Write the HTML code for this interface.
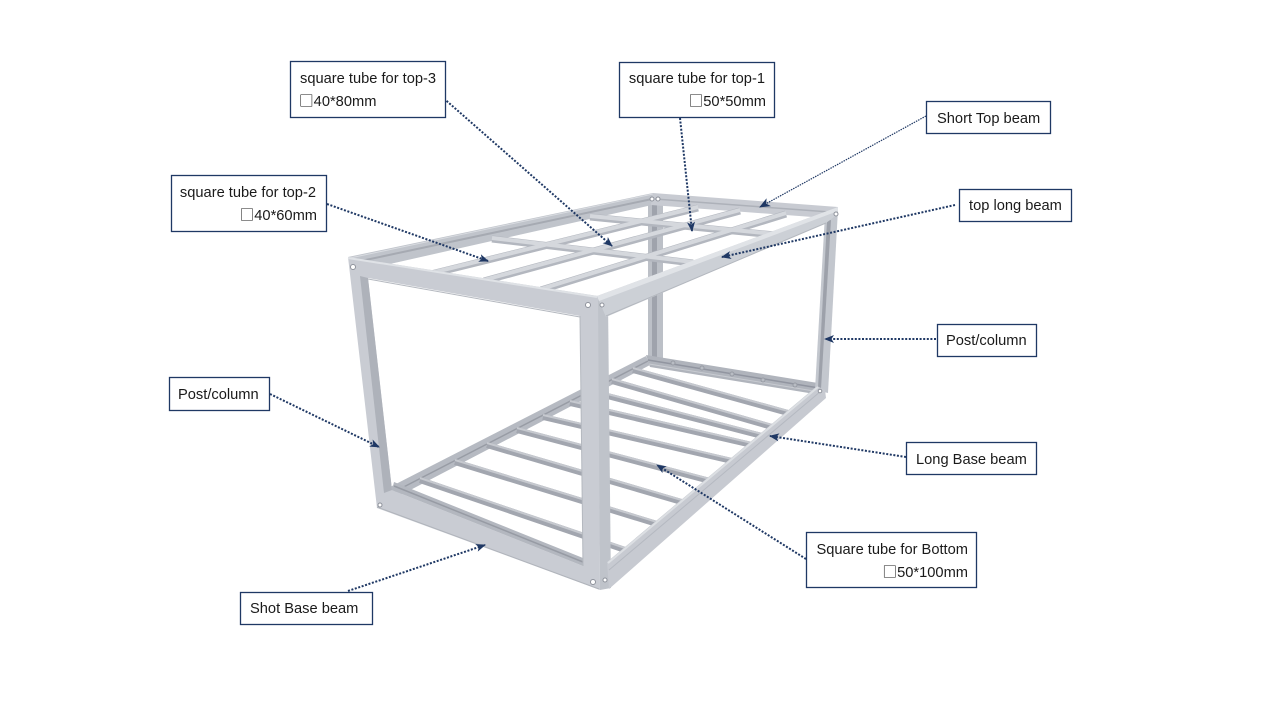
<!DOCTYPE html>
<html><head><meta charset="utf-8"><style>
html,body{margin:0;padding:0;background:#fff;}
svg{display:block;}
text{font-family:"Liberation Sans","DejaVu Sans",Arial,sans-serif;font-size:14.67px;fill:#1a1a1a;}
.sq{font-family:"Noto Sans CJK JP","Noto Sans CJK SC","DejaVu Sans",sans-serif;font-size:14.67px;}
</style></head><body>
<svg width="1280" height="720" viewBox="0 0 1280 720" xmlns="http://www.w3.org/2000/svg">
<defs>
<marker id="ah" markerUnits="userSpaceOnUse" markerWidth="10" markerHeight="10" refX="9" refY="5" orient="auto"><path d="M0,1 L10,5 L0,9 L2.5,5 Z" fill="#1f3864"/></marker>
<marker id="ah2" markerUnits="userSpaceOnUse" markerWidth="12" markerHeight="10" refX="10" refY="5" orient="auto"><path d="M0,0.5 L11,5 L0,9.5 L3,5 Z" fill="#1f3864"/></marker>
</defs>
<rect width="1280" height="720" fill="#fff"/>

<!-- far-left back post -->
<polygon points="648,196 663,198 663,363 648,361" fill="#bcc0c7"/>
<polygon points="652,200 657,200 657,361 652,360" fill="#9fa3ac"/>

<!-- floor back rail -->
<polygon points="390,487 646,356 650,365 395,498" fill="#b6bac2"/>
<line x1="392" y1="493" x2="648" y2="361" stroke="#989ca5" stroke-width="1.5"/>
<!-- far floor rail -->
<polygon points="646,355 818,383 821,395 650,367" fill="#b0b4bc"/>
<line x1="648" y1="360" x2="819" y2="388" stroke="#9195a0" stroke-width="1.5"/>
<line x1="649" y1="364" x2="820" y2="392" stroke="#c8cbd1" stroke-width="1"/>
<g fill="#b8bcc3" stroke="#979ba4" stroke-width="1">
<circle cx="673" cy="363" r="2"/><circle cx="702" cy="368" r="2"/><circle cx="732" cy="374" r="2"/><circle cx="763" cy="380" r="2"/><circle cx="795" cy="385" r="2"/>
</g>

<!-- floor bars -->
<g stroke="#a2a6af" stroke-width="6" stroke-linecap="butt">
<line x1="420" y1="480" x2="628" y2="551"/>
<line x1="455" y1="462" x2="657" y2="524"/>
<line x1="487" y1="445" x2="685" y2="503"/>
<line x1="517" y1="430" x2="710" y2="481"/>
<line x1="543" y1="417" x2="732" y2="461"/>
<line x1="570" y1="403" x2="752" y2="445"/>
<line x1="592" y1="392" x2="762" y2="436"/>
<line x1="612" y1="381" x2="772" y2="427"/>
<line x1="633" y1="370" x2="788" y2="413"/>
</g>
<g stroke="#c6c9cf" stroke-width="2">
<line x1="420" y1="478" x2="628" y2="549"/>
<line x1="455" y1="460" x2="657" y2="522"/>
<line x1="487" y1="443" x2="685" y2="501"/>
<line x1="517" y1="428" x2="710" y2="479"/>
<line x1="543" y1="415" x2="732" y2="459"/>
<line x1="570" y1="401" x2="752" y2="443"/>
<line x1="592" y1="390" x2="762" y2="434"/>
<line x1="612" y1="379" x2="772" y2="425"/>
<line x1="633" y1="368" x2="788" y2="411"/>
</g>

<!-- top back long beam strip -->
<polygon points="348,257 653,193 652,205 372,268" fill="#c0c4cb"/>
<line x1="356" y1="262" x2="652" y2="199" stroke="#a6aab2" stroke-width="2"/>
<line x1="350" y1="258" x2="653" y2="194" stroke="#d9dce1" stroke-width="1"/>
<!-- top far short beam -->
<polygon points="653,193 838,207 826,218 651,205" fill="#c8cbd2"/>
<line x1="655" y1="199" x2="830" y2="212" stroke="#adb1b9" stroke-width="1.5"/>

<!-- top grid bars -->
<g stroke="#b3b7bf" stroke-width="7">
<line x1="431" y1="274" x2="698" y2="208"/>
<line x1="484" y1="281" x2="740" y2="211"/>
<line x1="541" y1="290" x2="786" y2="214"/>
<line x1="492" y1="239" x2="693" y2="263"/>
<line x1="590" y1="217" x2="775" y2="235"/>
</g>
<g stroke="#d5d8dd" stroke-width="4">
<line x1="431" y1="273" x2="698" y2="207"/>
<line x1="484" y1="280" x2="740" y2="210"/>
<line x1="541" y1="289" x2="786" y2="213"/>
<line x1="492" y1="238" x2="693" y2="262"/>
<line x1="590" y1="216" x2="775" y2="234"/>
</g>

<!-- far right post -->
<polygon points="825,214 838,209 828,393 815,390" fill="#c3c7ce"/>
<polygon points="827,221 831,220 821,389 818,388" fill="#9da1aa"/>

<!-- near corner column side face -->
<polygon points="597,296 608,300 611,588 600,590" fill="#bfc3ca"/>

<!-- front long bottom beam -->
<polygon points="607,562 817,386 825,390 826,398 609,589" fill="#c7cad1"/>
<line x1="608" y1="563" x2="818" y2="387" stroke="#dcdfe3" stroke-width="2"/>
<line x1="609" y1="570" x2="821" y2="391" stroke="#b5b9c1" stroke-width="1"/>

<!-- left end frame -->
<path d="M348,257 L598,296 L600,590 L377,508 Z M368,278 L580,316 L583,566 L392,490 Z" fill="#c9ccd3" fill-rule="evenodd"/>
<polygon points="360,276 368,278 392,490 384,493" fill="#aeb2ba"/>
<polygon points="392,490 583,566 583,558 394,482" fill="#b3b7bf"/>
<line x1="394" y1="486" x2="583" y2="562" stroke="#979ba4" stroke-width="1.5"/>
<line x1="348" y1="258" x2="597" y2="297" stroke="#dfe2e6" stroke-width="2"/>
<line x1="368" y1="279" x2="580" y2="317" stroke="#b4b8bf" stroke-width="1"/>
<line x1="377" y1="507" x2="599" y2="589" stroke="#b0b4bb" stroke-width="1"/>
<line x1="580" y1="316" x2="583" y2="566" stroke="#b4b8bf" stroke-width="1"/>

<!-- front long top beam -->
<polygon points="597,296 838,207 838,214 826,223 606,317" fill="#ccd0d6"/>
<polygon points="597,296 838,207 838,211 599,301" fill="#e0e3e7"/>
<line x1="606" y1="316" x2="826" y2="223" stroke="#b4b8bf" stroke-width="1"/>

<!-- holes -->
<g fill="#fff" stroke="#8e929b" stroke-width="1">
<circle cx="353" cy="267" r="2.5"/>
<circle cx="588" cy="305" r="2.5"/>
<circle cx="602" cy="305" r="2"/>
<circle cx="652" cy="199" r="2"/>
<circle cx="658" cy="199" r="2"/>
<circle cx="836" cy="214" r="2"/>
<circle cx="380" cy="505" r="2"/>
<circle cx="593" cy="582" r="2.5"/>
<circle cx="605" cy="580" r="2"/>
<circle cx="820" cy="391" r="1.8"/>
</g>

<!-- connectors -->
<g stroke="#1f3864" stroke-width="2" stroke-dasharray="2 1.6" fill="none" marker-end="url(#ah)">
<line x1="433" y1="89" x2="612" y2="246"/>
<line x1="680" y1="118" x2="692" y2="231"/>
<line x1="955" y1="205" x2="722" y2="257"/>
<line x1="327" y1="204" x2="488" y2="261"/>
<line x1="936" y1="339" x2="825" y2="339"/>
<line x1="270" y1="394" x2="379" y2="447"/>
<line x1="906" y1="457" x2="770" y2="436"/>
<line x1="806" y1="559" x2="657" y2="465"/>
<line x1="348" y1="591" x2="485" y2="545"/>
</g>
<line x1="926" y1="116" x2="760" y2="207" stroke="#1f3864" stroke-width="1.2" stroke-dasharray="1.5 1" marker-end="url(#ah2)"/>

<!-- label boxes -->
<g fill="#fff" stroke="#1f3864" stroke-width="1.3">
<rect x="290.5" y="61.5" width="155" height="56"/>
<rect x="619.5" y="62.5" width="155" height="55"/>
<rect x="171.5" y="175.5" width="155" height="56"/>
<rect x="169.5" y="377.5" width="100" height="33"/>
<rect x="926.5" y="101.5" width="124" height="32"/>
<rect x="959.5" y="189.5" width="112" height="32"/>
<rect x="937.5" y="324.5" width="99" height="32"/>
<rect x="906.5" y="442.5" width="130" height="32"/>
<rect x="806.5" y="532.5" width="170" height="55"/>
<rect x="240.5" y="592.5" width="132" height="32"/>
</g>

<text x="300" y="83">square tube for top-3</text>
<text x="299" y="106"><tspan class="sq">□</tspan>40*80mm</text>
<text x="765" y="83" text-anchor="end">square tube for top-1</text>
<text x="766" y="106" text-anchor="end"><tspan class="sq">□</tspan>50*50mm</text>
<text x="316" y="197" text-anchor="end">square tube for top-2</text>
<text x="317" y="220" text-anchor="end"><tspan class="sq">□</tspan>40*60mm</text>
<text x="178" y="399">Post/column</text>
<text x="937" y="123">Short Top beam</text>
<text x="969" y="210">top long beam</text>
<text x="946" y="345">Post/column</text>
<text x="916" y="464">Long Base beam</text>
<text x="968" y="554" text-anchor="end">Square tube for Bottom</text>
<text x="968" y="577" text-anchor="end"><tspan class="sq">□</tspan>50*100mm</text>
<text x="250" y="613">Shot Base beam</text>
</svg>
</body></html>
